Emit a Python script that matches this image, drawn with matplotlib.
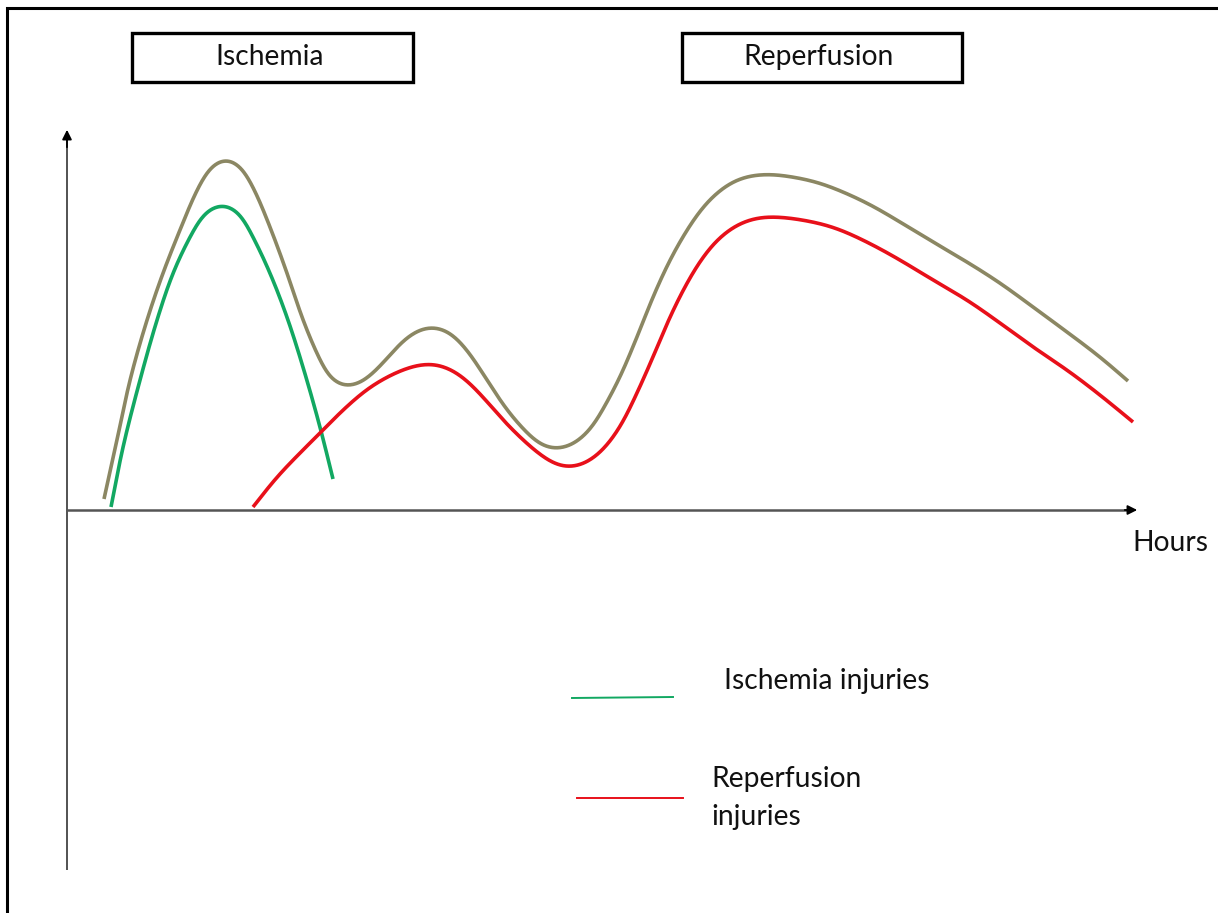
import numpy as np
import matplotlib
matplotlib.use("Agg")
import matplotlib.pyplot as plt
from matplotlib.patches import Rectangle

# ---- data (x: time units from origin, y: injury level) ----
total_x = [37, 50, 63, 80, 96, 113, 130, 145, 158, 171, 186, 203, 220, 236, 253, 266, 280, 296, 316, 340,
           361, 380, 400, 420, 440, 460, 476, 490, 506, 523, 540, 553, 570, 586, 603, 620, 636, 653, 673, 700,
           726, 753, 800, 833, 866, 900, 933, 966, 1000, 1033, 1061]
total_y = [11, 70, 130, 190, 237, 280, 320, 345, 353, 347, 323, 283, 237, 190, 150, 128, 122, 128, 147, 173,
           184, 180, 160, 130, 100, 77, 63, 60, 65, 80, 108, 133, 173, 213, 250, 280, 303, 320, 332, 336,
           333, 327, 307, 288, 268, 248, 227, 203, 178, 153, 129]

isch_x = [44, 56, 73, 90, 106, 123, 140, 156, 170, 186, 203, 220, 236, 253, 266]
isch_y = [3, 63, 130, 190, 237, 273, 300, 307, 300, 273, 237, 193, 143, 83, 31]

rep_x = [186, 210, 233, 253, 276, 303, 330, 346, 363, 380, 396, 416, 436, 456, 476, 493, 505, 520, 536, 553,
         570, 586, 603, 620, 636, 653, 673, 693, 713, 736, 766, 800, 833, 866, 900, 933, 966, 1000, 1033, 1066]
rep_y = [3, 33, 57, 77, 100, 123, 138, 144, 147, 143, 133, 113, 90, 70, 53, 43, 42, 47, 60, 83,
         117, 153, 193, 227, 253, 273, 287, 293, 293, 290, 283, 268, 250, 230, 210, 187, 163, 140, 115, 88]

phase_labels = ["Ischemia", "Reperfusion"]
legend_labels = ["Ischemia injuries", "Reperfusion\ninjuries"]
x_label = "Hours"

OLIVE = "#8b8763"
GREEN = "#12a862"
RED = "#e8101a"
FONT = ["Lato", "DejaVu Sans"]
FS = 20.3


def smooth(xs, ys, n=16, alpha=0.5, sigma=12.0):
    """Centripetal Catmull-Rom through the points, then a light Gaussian
    smoothing along the arc length to remove reading jitter."""
    p = np.column_stack([xs, ys]).astype(float)
    p = np.vstack([2 * p[0] - p[1], p, 2 * p[-1] - p[-2]])
    out = []
    for i in range(1, len(p) - 2):
        P0, P1, P2, P3 = p[i - 1], p[i], p[i + 1], p[i + 2]
        t0 = 0.0
        t1 = t0 + np.linalg.norm(P1 - P0) ** alpha
        t2 = t1 + np.linalg.norm(P2 - P1) ** alpha
        t3 = t2 + np.linalg.norm(P3 - P2) ** alpha
        t = np.linspace(t1, t2, n, endpoint=False)[:, None]
        A1 = (t1 - t) / (t1 - t0) * P0 + (t - t0) / (t1 - t0) * P1
        A2 = (t2 - t) / (t2 - t1) * P1 + (t - t1) / (t2 - t1) * P2
        A3 = (t3 - t) / (t3 - t2) * P2 + (t - t2) / (t3 - t2) * P3
        B1 = (t2 - t) / (t2 - t0) * A1 + (t - t0) / (t2 - t0) * A2
        B2 = (t3 - t) / (t3 - t1) * A2 + (t - t1) / (t3 - t1) * A3
        C = (t2 - t) / (t2 - t1) * B1 + (t - t1) / (t2 - t1) * B2
        out.append(C)
    out.append(p[-2][None, :])
    c = np.vstack(out)
    # resample uniformly by arc length
    seg = np.hypot(np.diff(c[:, 0]), np.diff(c[:, 1]))
    s = np.concatenate([[0], np.cumsum(seg)])
    su = np.arange(0, s[-1], 1.0)
    su = np.append(su, s[-1])
    cx = np.interp(su, s, c[:, 0])
    cy = np.interp(su, s, c[:, 1])
    # gaussian smoothing with point-reflection padding (keeps ends in place)
    k = int(3 * sigma)
    w = np.exp(-0.5 * (np.arange(-k, k + 1) / sigma) ** 2)
    w /= w.sum()

    def sm(v):
        pad_l = 2 * v[0] - v[1:k + 1][::-1]
        pad_r = 2 * v[-1] - v[-k - 1:-1][::-1]
        vv = np.concatenate([pad_l, v, pad_r])
        return np.convolve(vv, w, mode="valid")

    return sm(cx), sm(cy)


fig = plt.figure(figsize=(12.18, 9.13), dpi=100)
ax = fig.add_axes([0, 0, 1, 1])
ax.set_xlim(-67, 1151)
ax.set_ylim(-403, 510)
ax.axis("off")

# outer frame
ax.add_patch(Rectangle((-60, -420), 1300, 922, fill=False, lw=2.2, ec="black"))

# axes
ax.plot([0, 0], [-360, 370], color="#444444", lw=1.3, solid_capstyle="butt")
ax.annotate("", xy=(0, 383), xytext=(0, 360),
            arrowprops=dict(arrowstyle="-|>", color="black", lw=1.3, mutation_scale=14))
ax.plot([0, 1060], [0, 0], color="#555555", lw=1.8, solid_capstyle="butt")
ax.annotate("", xy=(1073, 0), xytext=(1055, 0),
            arrowprops=dict(arrowstyle="-|>", color="black", lw=1.3, mutation_scale=14))
ax.text(1065, -33, x_label, fontsize=FS, family=FONT, ha="left", va="center", color="#111111")

# curves
for xs, ys, c in [(total_x, total_y, OLIVE), (isch_x, isch_y, GREEN), (rep_x, rep_y, RED)]:
    sx, sy = smooth(xs, ys)
    ax.plot(sx, sy, color=c, lw=2.6, solid_capstyle="butt", solid_joinstyle="round")

# phase boxes
boxes = [(65, 428, 281, 49), (615, 428, 280, 49)]
for (bx, by, bw, bh), lab in zip(boxes, phase_labels):
    ax.add_patch(Rectangle((bx, by), bw, bh, fill=False, lw=2.4, ec="black"))
    ax.text(bx + bw / 2 - 3, by + bh / 2 + 1, lab, fontsize=FS, family=FONT,
            ha="center", va="center", color="#111111")

# legend
ax.plot([505, 606], [-188, -187], color=GREEN, lw=1.4)
ax.text(657, -171, legend_labels[0], fontsize=FS, family=FONT, ha="left", va="center", color="#111111")
ax.plot([510, 616], [-288, -288], color=RED, lw=1.4)
ax.text(644, -288, legend_labels[1], fontsize=FS, family=FONT, ha="left", va="center",
        color="#111111", linespacing=1.6)

fig.savefig("out.png", dpi=100)
